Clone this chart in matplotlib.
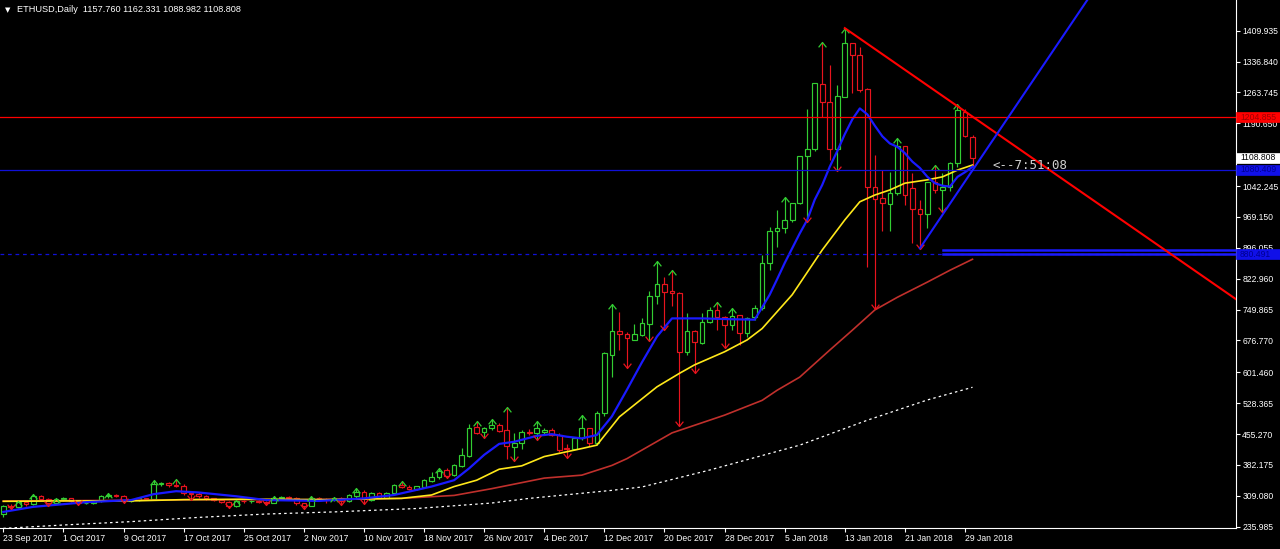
import matplotlib
matplotlib.use("Agg")
import matplotlib.pyplot as plt
from matplotlib.patches import Rectangle
from matplotlib.path import Path

plt.rcParams['font.family'] = ['Liberation Sans', 'DejaVu Sans']

# ---------------- data ----------------
symbol_title = "ETHUSD,Daily  1157.760 1162.331 1088.982 1108.808"

opens = [265, 284, 282, 294, 289, 308, 302, 291, 302, 303, 297, 292, 293, 296, 308, 311, 309, 297, 299, 303,
         302, 337, 339, 335, 333, 316, 314, 308, 303, 300, 295, 285, 297, 296, 297, 295, 293, 305, 306, 304,
         291, 286, 304, 300, 299, 305, 296, 309, 319, 300, 315, 305, 315, 335, 331, 326, 331, 345, 353, 370,
         358, 380, 403, 471, 461, 469, 477, 466, 425, 433, 461, 457, 460, 466, 453, 423, 420, 445, 469, 433,
         505, 642, 700, 692, 679, 690, 716, 782, 811, 794, 790, 650, 700, 670, 721, 750, 733, 713, 737, 695,
         733, 753, 859, 937, 942, 962, 1003, 1113, 1129, 1284, 1242, 1131, 1254, 1380, 1352, 1273, 1041, 1013, 1000, 1025,
         1137, 1037, 989, 975, 1052, 1033, 1040, 1096, 1218, 1157.760]
highs = [287, 290, 297, 297, 313, 310, 304, 305, 306, 304, 299, 297, 298, 310, 316, 313, 310, 301, 306, 305,
         346, 342, 341, 349, 336, 318, 317, 310, 305, 302, 297, 300, 300, 299, 299, 297, 308, 309, 309, 306,
         293, 308, 306, 303, 307, 307, 313, 328, 322, 317, 318, 318, 337, 343, 334, 333, 348, 365, 374, 374,
         384, 422, 479, 486, 472, 491, 481, 520, 457, 464, 467, 486, 470, 470, 457, 432, 449, 500, 470, 510,
         650, 762, 745, 696, 716, 731, 795, 866, 826, 843, 792, 742, 702, 742, 755, 767, 735, 754, 738, 733,
         760, 879, 946, 985, 1017, 1003, 1113, 1224, 1285, 1384, 1329, 1281, 1416, 1382, 1372, 1274, 1116, 1080, 1076, 1157,
         1137, 1072, 1009, 1052, 1092, 1072, 1100, 1236, 1224, 1162.331]
lows = [258, 279, 280, 286, 288, 298, 285, 289, 297, 294, 288, 289, 290, 295, 305, 306, 292, 294, 297, 299,
        301, 333, 331, 331, 312, 299, 303, 300, 296, 293, 280, 283, 293, 293, 293, 288, 292, 302, 301, 288,
        279, 285, 296, 293, 296, 288, 294, 305, 290, 297, 303, 303, 313, 328, 322, 323, 329, 342, 350, 351,
        356, 377, 401, 456, 447, 465, 460, 397, 392, 419, 452, 440, 455, 450, 413, 398, 417, 441, 426, 430,
        498, 591, 654, 611, 678, 687, 676, 763, 702, 758, 475, 642, 600, 668, 719, 702, 660, 702, 666, 686,
        726, 750, 843, 899, 930, 956, 1000, 956, 1126, 1206, 1104, 1078, 1252, 1262, 1266, 851, 751, 937, 937, 1021,
        997, 907, 894, 942, 1025, 980, 1031, 1088, 1159, 1088.982]
closes = [284, 282, 294, 289, 308, 302, 291, 302, 303, 297, 292, 293, 296, 308, 311, 309, 297, 299, 303, 302,
          337, 339, 335, 333, 316, 314, 308, 303, 300, 295, 285, 297, 296, 297, 295, 293, 305, 306, 304, 291,
          286, 304, 300, 298, 305, 297, 311, 319, 303, 315, 305, 315, 335, 331, 325, 332, 346, 354, 368, 357,
          382, 406, 469, 458, 469, 477, 463, 427, 433, 461, 457, 469, 466, 453, 417, 420, 445, 469, 433, 505,
          646, 700, 692, 682, 691, 717, 782, 811, 792, 788, 650, 700, 674, 721, 749, 733, 713, 735, 694, 730,
          754, 859, 937, 942, 962, 1003, 1113, 1129, 1285, 1242, 1131, 1255, 1380, 1352, 1270, 1041, 1011, 1001, 1025, 1137,
          1021, 987, 975, 1051, 1033, 1040, 1096, 1222, 1161, 1108.808]

# fractal markers (bar indices)
fractal_up = [2, 4, 7, 14, 20, 23, 31, 36, 41, 44, 47, 53, 58, 63, 65, 67, 71, 77, 81, 87, 89, 95, 97,
              104, 109, 112, 119, 124, 127]
fractal_down = [1, 6, 10, 16, 25, 30, 35, 40, 45, 48, 59, 64, 68, 71, 75, 83, 86, 88, 90, 92, 96,
                107, 111, 116, 122, 125]

# moving averages (bar index, price)
ma_blue_idx = [0, 4, 11, 17, 20, 23, 26, 31, 35, 42, 48, 52, 57, 60, 62, 64, 66, 68, 71, 73, 75, 77, 79, 81,
               83, 85, 87, 89, 93, 97, 100, 101, 102, 103, 104, 105, 106, 107, 108, 109, 110, 111, 112, 113,
               114, 115, 116, 117, 118, 119, 120, 121, 122, 123, 124, 125, 126, 127, 128, 129]
ma_blue_val = [271, 283, 294, 299, 313, 320, 317, 308, 299, 297, 303, 311, 331, 346, 374, 406, 432, 437, 451,
               455, 449, 445, 453, 497, 560, 625, 686, 729, 729, 727, 726, 755, 785, 822, 860, 895, 930, 962,
               1010, 1045, 1088, 1125, 1165, 1200, 1226, 1212, 1185, 1160, 1143, 1135, 1120, 1100, 1085, 1064,
               1049, 1043, 1041, 1064, 1075, 1088]
ma_yellow_idx = [0, 8, 17, 24, 33, 43, 53, 57, 60, 63, 66, 69, 72, 77, 79, 82, 87, 90, 92, 96, 99, 101, 103,
                 105, 109, 112, 114, 116, 118, 120, 123, 125, 127, 129]
ma_yellow_val = [296, 297, 297, 300, 301, 300, 303, 311, 331, 346, 372, 380, 402, 421, 429, 496, 567, 599, 619,
                 650, 678, 705, 745, 785, 891, 962, 1005, 1021, 1033, 1049, 1057, 1064, 1080, 1092]
ma_red_idx = [0, 13, 26, 40, 53, 60, 65, 72, 77, 81, 83, 89, 96, 101, 103, 106, 110, 113, 116, 119, 123, 126, 129]
ma_red_val = [297, 298, 300, 300, 303, 310, 326, 351, 358, 381, 397, 458, 500, 535, 559, 590, 654, 701, 749,
              779, 815, 843, 869]
ma_white_idx = [0, 8, 17, 26, 35, 44, 55, 65, 70, 81, 85, 94, 106, 115, 123, 129]
ma_white_val = [232, 240, 248, 258, 266, 271, 279, 292, 303, 322, 330, 370, 429, 488, 536, 566]

# horizontal lines and trend lines
hline_red = 1204.855
hline_blue = 1080.409
hline_blue_dash = 880.491
zone_top = 891.0
zone_start = 125.1
red_trend_idx = [112, 165]
red_trend_val = [1416, 763]
blue_trend_idx = [122, 146]
blue_trend_val = [895, 1528]

# axis labels
xtick_idx = [0, 8, 16, 24, 32, 40, 48, 56, 64, 72, 80, 88, 96, 104, 112, 120, 128]
xtick_labels = ["23 Sep 2017", "1 Oct 2017", "9 Oct 2017", "17 Oct 2017", "25 Oct 2017", "2 Nov 2017",
                "10 Nov 2017", "18 Nov 2017", "26 Nov 2017", "4 Dec 2017", "12 Dec 2017", "20 Dec 2017",
                "28 Dec 2017", "5 Jan 2018", "13 Jan 2018", "21 Jan 2018", "29 Jan 2018"]
ytick_vals = [1409.935, 1336.840, 1263.745, 1190.650, 1042.245, 969.150, 896.055, 822.960, 749.865,
              676.770, 601.460, 528.365, 455.270, 382.175, 309.080, 235.985]
ytick_labels = ["%.3f" % v for v in ytick_vals]
timer_text = "<--7:51:08"

# ---------------- drawing ----------------
W, H = 1280, 549
FS = 6.2
fig = plt.figure(figsize=(W / 100, H / 100), dpi=100, facecolor='black')
ax = fig.add_axes([0, 21 / H, 1236 / W, 528 / H], facecolor='black')
ax.set_xlim(-0.44, 164.07)
ax.set_ylim(232.9, 1482.6)

UP = '#32cd32'
DN = '#e8141e'
bw = 0.62
for i, (o, h, l, c) in enumerate(zip(opens, highs, lows, closes)):
    col = UP if c >= o else DN
    ax.vlines(i, l, h, color=col, lw=0.85, zorder=2)
    ax.add_patch(Rectangle((i - bw / 2, min(o, c)), bw, max(abs(c - o), 0.01),
                           facecolor='black', edgecolor=col, lw=0.85, zorder=3))

# moving averages
ax.plot(ma_white_idx, ma_white_val, color='white', lw=0.9, ls=(0, (2, 2.5)), zorder=4)
ax.plot(ma_red_idx, ma_red_val, color='#c0302c', lw=1.2, zorder=4)
ax.plot(ma_yellow_idx, ma_yellow_val, color='#ffe81a', lw=1.2, zorder=4)
ax.plot(ma_blue_idx, ma_blue_val, color='#1a1aff', lw=1.6, zorder=4)

# fractal chevrons
up_marker = Path([(-0.8, -1), (0, 0), (0.8, -1)], [Path.MOVETO, Path.LINETO, Path.LINETO])
dn_marker = Path([(-0.8, 1), (0, 0), (0.8, 1)], [Path.MOVETO, Path.LINETO, Path.LINETO])
ax.plot(fractal_up, [highs[i] for i in fractal_up], ls='none', marker=up_marker, ms=7,
        mfc='none', mec=UP, mew=0.9, zorder=5)
ax.plot(fractal_down, [lows[i] for i in fractal_down], ls='none', marker=dn_marker, ms=7,
        mfc='none', mec=DN, mew=0.9, zorder=5)

# horizontal lines
ax.axhline(hline_red, color='#ff0000', lw=0.9, zorder=5)
ax.axhline(hline_blue, color='#1010d8', lw=0.9, zorder=5)
ax.axhline(hline_blue_dash, color='#1010d8', lw=0.9, ls=(0, (3, 3)), zorder=5)
ax.plot([zone_start, 170], [zone_top, zone_top], color='#1a1aff', lw=1.8, zorder=5)
ax.plot([zone_start, 170], [hline_blue_dash, hline_blue_dash], color='#1a1aff', lw=1.8, zorder=5)

# trend lines
ax.plot(red_trend_idx, red_trend_val, color='#ff0000', lw=1.5, zorder=6)
ax.plot(blue_trend_idx, blue_trend_val, color='#1a1aff', lw=1.5, zorder=6)

# timer text
ax.text(131.6, 1092, timer_text, color='#d0d0d0', fontsize=9, family=['DejaVu Sans Mono'],
        ha='left', va='center', zorder=7)

# axes styling
for s in ['top', 'left']:
    ax.spines[s].set_visible(False)
for s in ['right', 'bottom']:
    ax.spines[s].set_color('white')
    ax.spines[s].set_linewidth(0.8)
ax.yaxis.tick_right()
ax.set_yticks(ytick_vals)
ax.set_yticklabels(ytick_labels)
ax.set_xticks(xtick_idx)
ax.set_xticklabels(xtick_labels)
ax.tick_params(axis='y', colors='white', labelsize=FS, length=3, width=0.8, pad=1.5)
ax.tick_params(axis='x', colors='white', labelsize=FS, length=3, width=0.8, pad=1.5)
for lbl in ax.get_xticklabels():
    lbl.set_horizontalalignment('left')

# price boxes on the right scale
trans = ax.get_yaxis_transform()
box_h = 10 * (1482.6 - 232.9) / 528


def price_box(val, bg, fg):
    ax.add_patch(Rectangle((1.0, val - box_h / 2), 44 / 1236, box_h, transform=trans,
                           facecolor=bg, edgecolor=bg, lw=0.5, clip_on=False, zorder=10))
    ax.text(1.0 + 4 / 1236, val, "%.3f" % val, transform=trans, ha='left', va='center',
            fontsize=FS, color=fg, clip_on=False, zorder=11)


price_box(hline_red, '#ff0000', '#a00000')
price_box(closes[-1], 'white', 'black')
price_box(hline_blue, '#1010e8', '#000090')
price_box(hline_blue_dash, '#1010e8', '#000090')

# title
fig.text(5 / W, 1 - 10 / H, "\u25BC", color='white', fontsize=5, family=['DejaVu Sans'],
         ha='left', va='center')
fig.text(17 / W, 1 - 10 / H, symbol_title, color='white', fontsize=6.6, ha='left', va='center')

fig.savefig("out.png", dpi=100, facecolor='black')
